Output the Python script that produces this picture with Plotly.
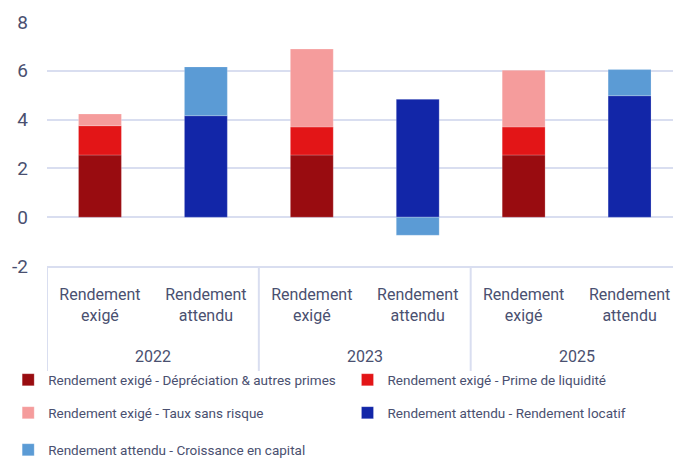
import plotly.graph_objects as go

# Category positions and labels
positions = [0, 1, 2, 3, 4, 5]
tick_labels = ["Rendement<br>exigé", "Rendement<br>attendu"] * 3
years = ["2022", "2023", "2025"]
year_centers = [0.5, 2.5, 4.5]
group_edges = [-0.5, 1.5, 3.5, 5.5]
y_ticks = [-2, 0, 2, 4, 6, 8]
y_tick_text = ["-2", "0", "2", "4", "6", "8"]

# Stacked components (None where the component does not apply)
depreciation = [2.55, None, 2.55, None, 2.55, None]
liquidite = [1.2, None, 1.15, None, 1.15, None]
sans_risque = [0.48, None, 3.19, None, 2.32, None]
locatif = [None, 4.16, None, 4.83, None, 4.98]
croissance = [None, 2.0, None, -0.74, None, 1.07]

series = [
    ("Rendement exigé - Dépréciation & autres primes", depreciation, "#990C10"),
    ("Rendement exigé - Prime de liquidité", liquidite, "#E31517"),
    ("Rendement exigé - Taux sans risque", sans_risque, "#F59C9C"),
    ("Rendement attendu - Rendement locatif", locatif, "#1226A8"),
    ("Rendement attendu - Croissance en capital", croissance, "#5B9BD5"),
]

TEXT = "#4A5070"
GRID = "#D9DEF0"
FONT = "Roboto, sans-serif"

# Legend slots: (x in paper units, y in paper units), one legend per entry
legend_ids = ["legend", "legend2", "legend3", "legend4", "legend5"]
legend_slots = [(-0.062, -0.467), (0.48, -0.467),
                (-0.062, -0.602), (0.48, -0.602),
                (-0.062, -0.754)]

fig = go.Figure()
for (name, vals, color), leg in zip(series, legend_ids):
    fig.add_trace(go.Bar(
        x=positions, y=vals, name=name, width=0.405,
        marker=dict(color=color, line=dict(color="rgba(255,255,255,0.35)", width=0.6)),
        legend=leg,
    ))

# Group dividers below the plot area
for edge in group_edges:
    fig.add_shape(type="line", xref="x", yref="paper", x0=edge, x1=edge,
                  y0=0, y1=-0.43, line=dict(color=GRID, width=2), layer="below")

# Year labels
for yr, xc in zip(years, year_centers):
    fig.add_annotation(x=xc, xref="x", y=-0.37, yref="paper", text=yr,
                       showarrow=False, font=dict(size=16, color=TEXT, family=FONT),
                       yanchor="middle")

legend_layout = {}
for leg, (lx, ly) in zip(legend_ids, legend_slots):
    legend_layout[leg] = dict(
        orientation="h", xanchor="left", x=lx, yanchor="middle", y=ly,
        font=dict(size=13.5, color=TEXT, family=FONT),
        itemwidth=30, bgcolor="rgba(0,0,0,0)",
    )

fig.update_layout(
    width=673, height=459,
    margin=dict(l=47, r=0, t=22, b=193, autoexpand=False),
    plot_bgcolor="white", paper_bgcolor="white",
    barmode="relative",
    showlegend=True,
    font=dict(family=FONT, color=TEXT),
    xaxis=dict(range=[-0.5, 5.41], tickvals=positions, ticktext=tick_labels,
               showgrid=False, zeroline=False, showline=True, linecolor=GRID,
               linewidth=2, ticks="", tickfont=dict(size=16, color=TEXT, family=FONT),
               ticklabelstandoff=13, automargin=False),
    yaxis=dict(range=[-2, 8], tickvals=y_ticks, ticktext=y_tick_text,
               showgrid=True, gridcolor=GRID, gridwidth=2,
               zeroline=True, zerolinecolor=GRID, zerolinewidth=2,
               tickfont=dict(size=19, color=TEXT, family=FONT), ticks="",
               ticklabelstandoff=18, automargin=False),
    **legend_layout,
)

fig.write_html("out.html")
